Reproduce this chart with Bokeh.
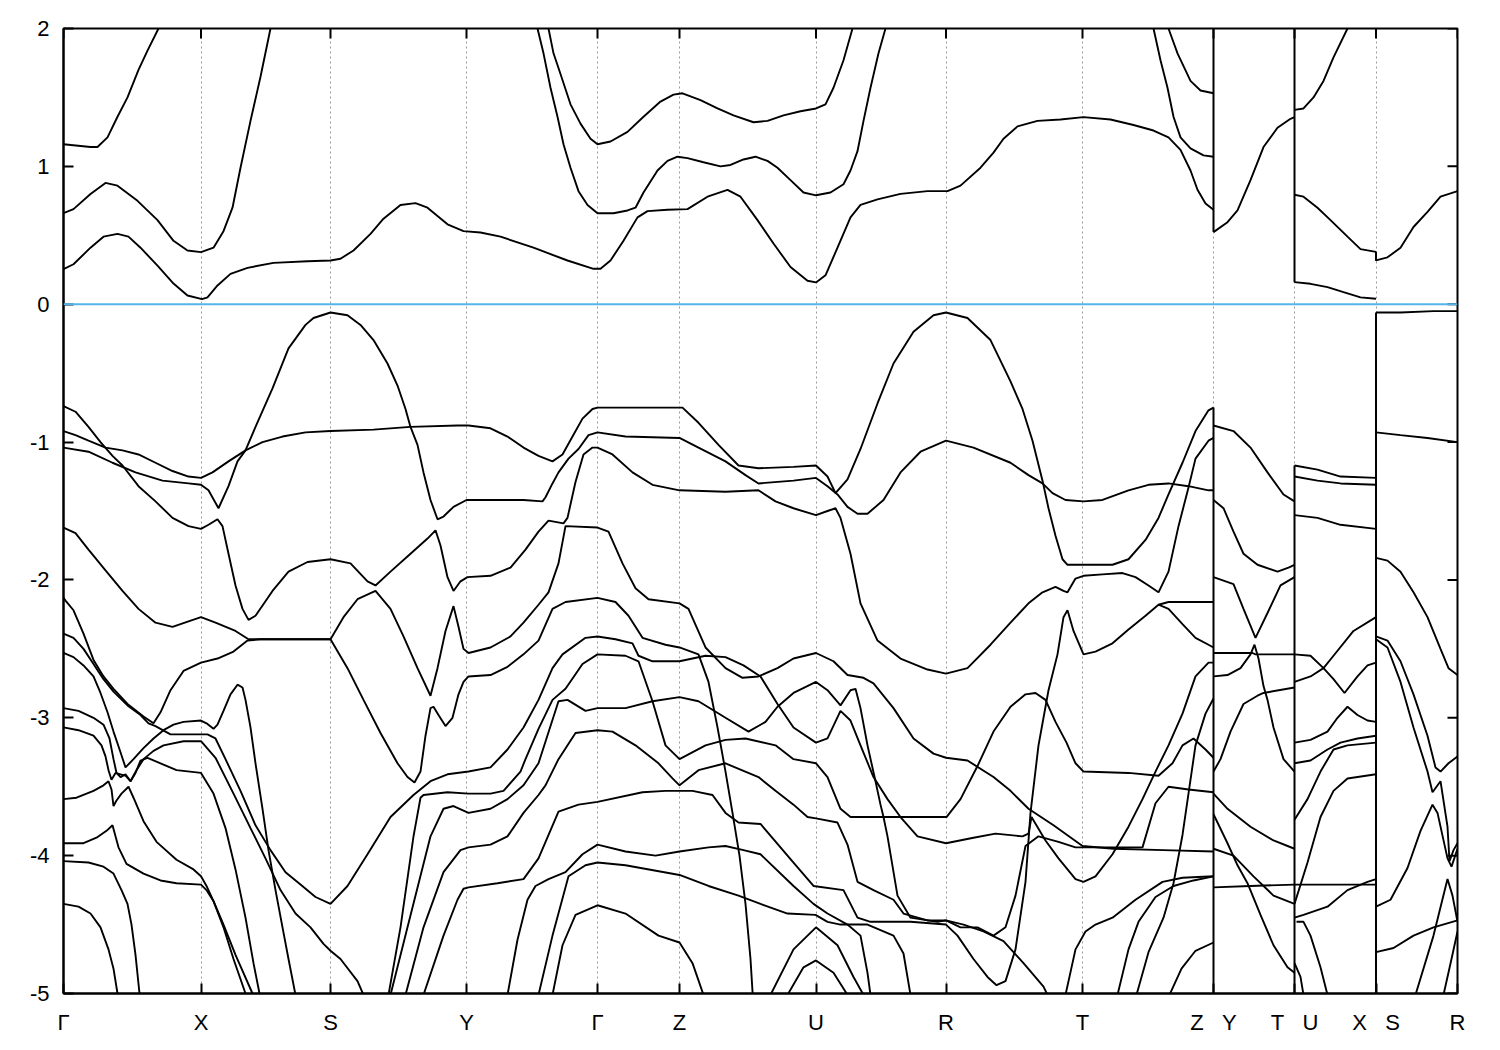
from bokeh.plotting import figure
from bokeh.models import Range1d, FixedTicker, Span, ColumnDataSource
from bokeh.embed import file_html
from bokeh.resources import INLINE

# ---------------- axis data ----------------
NB = "\u00a0" * 3
kpath_ticks = [0, 137.5, 267, 403, 534, 616, 752.5, 882.5, 1019, 1150, 1231, 1312.5, 1394]
kpath_labels = ["Γ", "X", "S", "Y", "Γ", "Z", "U", "R", "T",
                "Z" + NB + "Y", "T" + NB + "U", "X" + NB + "S", "R"]
energy_ticks = [-5, -4, -3, -2, -1, 0, 1, 2]
energy_labels = ["-5", "-4", "-3", "-2", "-1", "0", "1", "2"]
fermi_level = 0.0
# discontinuities of the path: (k, E_low, E_high)
jumps = [(1150, -5.3, -0.75), (1150, 0.523, 2.3),
         (1231, -5.3, -1.17), (1231, 0.16, 2.3),
         (1312.5, -5.3, -0.06), (1312.5, 0.318, 0.38)]

# ---------------- conduction bands (k, E) ----------------
cb1 = [(0,1.16),(27,1.14),(34,1.14),(44,1.21),(54,1.36),(64,1.50),(75,1.70),(84,1.84),(95,2.0),(102,2.12)]
cb2 = [(0,0.66),(10,0.69),(27,0.80),(42,0.88),(54,0.86),(74,0.75),(94,0.61),(110,0.46),(124,0.39),(137.5,0.378),
       (150,0.41),(160,0.53),(169,0.70),(177,0.99),(187,1.33),(197,1.65),(207,2.0),(212,2.15)]
cb3 = [(0,0.254),(10,0.29),(27,0.41),(40,0.49),(54,0.51),(65,0.49),(77,0.41),(94,0.28),(110,0.15),(124,0.063),
       (138.5,0.037),(144,0.05),(154,0.136),(167,0.22),(184,0.264),(210,0.30),(244,0.312),(267,0.317),(277,0.33),
       (290,0.39),(307,0.51),(320,0.62),(337,0.72),(352,0.733),(364,0.70),(384,0.58),(400,0.53),(417,0.52),
       (437,0.49),(470,0.41),(504,0.317),(530,0.257),(537,0.257),(547,0.317),(560,0.46),(574,0.63),(584,0.675),
       (604,0.685),(624,0.69),(644,0.78),(664,0.83),(677,0.78),(694,0.61),(710,0.44),(727,0.27),(744,0.17),
       (752.5,0.158),(762,0.21),(774,0.41),(787,0.63),(797,0.72),(814,0.76),(837,0.80),(864,0.82),(884,0.82),
       (897,0.86),(917,0.99),(930,1.10),(940,1.20),(954,1.29),(974,1.33),(997,1.34),(1020,1.357),(1047,1.34),
       (1070,1.30),(1090,1.26),(1105,1.21),(1117,1.12),(1127,0.97),(1134,0.83),(1142,0.73),(1150,0.685)]
cb4 = [(470,2.1),(474,2.0),(480,1.82),(487,1.57),(494,1.36),(500,1.16),(507,0.99),(515,0.82),(524,0.72),(534,0.66),
       (550,0.66),(564,0.68),(572,0.70),(580,0.81),(594,0.97),(604,1.04),(614,1.07),(624,1.06),(640,1.03),(657,1.00),
       (667,1.01),(680,1.05),(692,1.07),(704,1.04),(714,0.99),(727,0.90),(740,0.81),(752.5,0.79),(767,0.81),
       (780,0.87),(787,0.97),(794,1.11),(800,1.33),(807,1.57),(815,1.82),(822,2.0),(826,2.1)]
cb5 = [(482,2.08),(485,2.0),(490,1.82),(497,1.67),(507,1.45),(517,1.31),(527,1.20),(534,1.16),(547,1.18),(564,1.25),
       (580,1.36),(597,1.47),(610,1.52),(619,1.53),(637,1.48),(654,1.42),(670,1.37),(690,1.32),(704,1.33),(720,1.37),
       (737,1.40),(752.5,1.42),(762,1.45),(770,1.57),(780,1.77),(789,2.0),(792,2.08)]
cb6 = [(1088,2.08),(1090,2.0),(1097,1.77),(1104,1.57),(1110,1.36),(1117,1.21),(1127,1.13),(1140,1.08),(1150,1.07)]
cb7 = [(1103,2.08),(1105,2.0),(1114,1.82),(1127,1.62),(1137,1.55),(1150,1.53)]
cb8 = [(1150,0.523),(1164,0.595),(1174,0.68),(1187,0.90),(1200,1.14),(1214,1.28),(1227,1.345),(1231,1.357)]
cb9 = [(1231,1.41),(1240,1.42),(1250,1.50),(1260,1.62),(1270,1.79),(1284,2.0),(1287,2.08)]
cb10 = [(1231,0.794),(1240,0.78),(1254,0.70),(1267,0.61),(1284,0.49),(1297,0.40),(1312.5,0.38)]
cb11 = [(1231,0.16),(1247,0.148),(1264,0.124),(1280,0.088),(1297,0.05),(1312.5,0.04)]
cb12 = [(1312.5,0.38),(1312.5,0.318),(1324,0.34),(1337,0.41),(1350,0.56),(1364,0.67),(1377,0.78),(1394,0.82)]

# ---------------- valence bands, Gamma -> ... -> Z ----------------
vb_a = [(0,-0.74),(12,-0.78),(25,-0.89),(37,-1.00),(49,-1.10),(59,-1.17),(75,-1.32),(92,-1.43),(109,-1.55),
        (125,-1.61),(137.5,-1.63),(145,-1.60),(154,-1.56),(159,-1.61),(165,-1.81),(172,-2.04),(179,-2.21),
        (185,-2.29),(192,-2.26),(209,-2.08),(225,-1.94),(244,-1.87),(267,-1.85),(287,-1.88),(304,-2.01),
        (312,-2.04),(327,-1.94),(347,-1.81),(364,-1.70),(372,-1.64),(377,-1.75),(384,-1.98),(390,-2.08),
        (397,-2.01),(404,-1.98),(427,-1.97),(447,-1.91),(462,-1.78),(475,-1.65),(485,-1.57),(500,-1.59),
        (504,-1.55),(512,-1.29),(520,-1.09),(529,-1.04),(534,-1.04),(549,-1.09),(569,-1.22),(589,-1.31),
        (616,-1.35),(662,-1.36),(695,-1.35),(712,-1.43),(730,-1.48),(752.5,-1.53),(764,-1.50),(772,-1.48),
        (777,-1.55),(787,-1.81),(797,-2.17),(814,-2.44),(837,-2.57),(864,-2.65),(882.5,-2.68),(904,-2.64),
        (927,-2.47),(947,-2.31),(965,-2.17),(979,-2.09),(992,-2.05),(1000,-2.08),(1004,-2.09),(1012,-1.99),
        (1020,-1.97),(1039,-1.96),(1059,-1.95),(1072,-1.98),(1085,-2.04),(1095,-2.09),(1105,-1.94),(1115,-1.61),
        (1125,-1.33),(1132,-1.12),(1145,-0.99),(1150,-0.97)]
vb_b = [(0,-0.92),(12,-0.95),(25,-0.99),(42,-1.04),(59,-1.06),(75,-1.09),(92,-1.15),(109,-1.21),(125,-1.25),
        (137.5,-1.26),(149,-1.22),(165,-1.14),(182,-1.06),(199,-1.00),(219,-0.96),(242,-0.93),(267,-0.92),
        (310,-0.91),(347,-0.89),(394,-0.88),(405,-0.88),(427,-0.90),(444,-0.96),(460,-1.04),(475,-1.10),
        (489,-1.14),(499,-1.09),(509,-0.96),(519,-0.83),(529,-0.76),(534,-0.75),(562,-0.75),(619,-0.75),
        (635,-0.86),(655,-1.02),(675,-1.17),(695,-1.19),(730,-1.18),(752.5,-1.17),(764,-1.25),(772,-1.37),
        (784,-1.27),(797,-1.05),(814,-0.72),(830,-0.43),(850,-0.20),(870,-0.08),(882.5,-0.06),(904,-0.10),
        (927,-0.26),(947,-0.56),(959,-0.76),(969,-0.99),(979,-1.28),(985,-1.48),(992,-1.68),(999,-1.85),
        (1004,-1.89),(1020,-1.89),(1049,-1.89),(1065,-1.85),(1082,-1.71),(1095,-1.55),(1105,-1.38),(1119,-1.15),
        (1132,-0.92),(1145,-0.77),(1150,-0.75)]
vb_1 = [(0,-1.04),(25,-1.07),(49,-1.15),(72,-1.22),(99,-1.28),(125,-1.30),(137.5,-1.31),(145,-1.35),(155,-1.48),
        (165,-1.32),(174,-1.14),(182,-1.06),(192,-0.89),(209,-0.61),(225,-0.32),(242,-0.15),(250,-0.10),
        (267,-0.06),(284,-0.08),(297,-0.15),(310,-0.26),(324,-0.43),(334,-0.59),(342,-0.76),(347,-0.89),
        (354,-1.02),(360,-1.22),(367,-1.42),(374,-1.56),(380,-1.54),(390,-1.47),(403,-1.42),(427,-1.42),
        (460,-1.42),(479,-1.43),(482,-1.40),(489,-1.30),(495,-1.22),(505,-1.12),(515,-1.05),(525,-0.95),
        (534,-0.93),(562,-0.96),(616,-0.97),(635,-1.04),(662,-1.14),(682,-1.24),(695,-1.30),(730,-1.28),
        (752.5,-1.26),(764,-1.32),(774,-1.38),(784,-1.47),(794,-1.52),(804,-1.52),(820,-1.42),(837,-1.22),
        (857,-1.07),(882.5,-0.99),(910,-1.04),(947,-1.15),(965,-1.24),(979,-1.30),(989,-1.37),(1002,-1.42),
        (1020,-1.43),(1039,-1.42),(1065,-1.35),(1085,-1.31),(1105,-1.30),(1125,-1.32),(1145,-1.35),(1150,-1.35)]
vb_c = [(0,-1.62),(12,-1.66),(25,-1.78),(42,-1.93),(59,-2.08),(75,-2.21),(92,-2.31),(109,-2.34),(125,-2.30),
        (137.5,-2.27),(152,-2.31),(172,-2.37),(185,-2.43),(209,-2.43),(242,-2.43),(267,-2.43),(280,-2.27),
        (294,-2.14),(312,-2.08),(327,-2.21),(340,-2.41),(354,-2.64),(367,-2.84),(374,-2.64),(382,-2.37),
        (390,-2.19),(395,-2.34),(400,-2.50),(405,-2.53),(427,-2.49),(447,-2.41),(460,-2.31),(475,-2.18),
        (485,-2.09),(495,-1.88),(502,-1.61),(534,-1.62),(545,-1.65),(559,-1.88),(572,-2.06),(585,-2.14),
        (616,-2.17),(625,-2.21),(642,-2.49),(662,-2.64),(679,-2.71),(695,-2.70),(714,-2.64),(730,-2.57),
        (752.5,-2.53),(770,-2.59),(784,-2.69),(800,-2.71),(810,-2.75),(830,-2.93),(850,-3.15),(870,-3.26),
        (882.5,-3.29),(904,-3.31),(930,-3.43),(947,-3.53),(965,-3.66),(990,-3.78),(1019,-3.93),(1050,-3.95),
        (1100,-3.96),(1150,-3.97)]
vb_d = [(0,-2.13),(2,-2.15),(10,-2.22),(20,-2.39),(30,-2.58),(40,-2.70),(50,-2.79),(64,-2.90),(80,-2.99),
        (90,-3.04),(97,-2.96),(107,-2.80),(120,-2.66),(137.5,-2.60),(154,-2.57),(170,-2.52),(184,-2.44),
        (197,-2.43),(220,-2.43),(267,-2.43),(284,-2.64),(300,-2.87),(317,-3.11),(334,-3.33),(344,-3.43),
        (351,-3.47),(357,-3.39),(362,-3.13),(367,-2.93),(370,-2.92),(375,-2.98),(382,-3.06),(389,-3.00),
        (395,-2.83),(400,-2.74),(405,-2.70),(427,-2.69),(444,-2.63),(460,-2.54),(475,-2.44),(489,-2.21),
        (502,-2.16),(534,-2.13),(552,-2.16),(565,-2.26),(579,-2.42),(602,-2.47),(616,-2.49),(635,-2.54),
        (645,-2.74),(654,-3.07),(662,-3.39),(669,-3.69),(676,-4.0),(682,-4.35),(687,-4.75),(690,-5.1)]
vb_e = [(0,-2.39),(10,-2.42),(20,-2.50),(30,-2.61),(40,-2.72),(50,-2.81),(64,-2.91),(77,-2.98),(85,-3.04),
        (92,-3.06),(97,-3.08),(107,-3.12),(144,-3.12),(152,-3.15),(162,-3.30),(177,-3.53),(192,-3.78),
        (207,-3.96),(222,-4.12),(237,-4.21),(252,-4.30),(267,-4.35),(284,-4.22),(304,-3.99),(327,-3.72),
        (350,-3.56),(367,-3.46),(384,-3.41),(405,-3.39),(427,-3.36),(444,-3.23),(460,-3.07),(475,-2.87),
        (489,-2.64),(499,-2.54),(522,-2.42),(534,-2.41),(552,-2.43),(569,-2.46),(575,-2.55),(589,-2.59),
        (616,-2.59),(629,-2.57),(642,-2.55),(662,-2.56),(680,-2.62),(697,-2.70),(714,-2.90),(730,-3.07),
        (752.5,-3.18),(764,-3.15),(777,-2.95),(787,-3.02),(797,-3.20),(810,-3.43),(824,-3.59),(837,-3.72),
        (854,-3.86),(882.5,-3.91),(910,-3.87),(932,-3.84),(959,-3.86),(965,-3.84),(968,-3.72),(982,-3.89),
        (995,-4.02),(1012,-4.17),(1020,-4.19),(1032,-4.15),(1049,-3.99),(1065,-3.79),(1079,-3.59),
        (1092,-3.39),(1105,-3.20),(1119,-2.97),(1132,-2.70),(1145,-2.60),(1150,-2.60)]
# Gamma -> X -> S lower bands
gx1 = [(0,-2.53),(10,-2.56),(20,-2.62),(30,-2.70),(37,-2.82),(44,-2.96),(50,-3.10),(57,-3.25),(62,-3.36),
       (70,-3.30),(80,-3.22),(90,-3.15),(100,-3.09),(110,-3.05),(120,-3.03),(137.5,-3.02),(143,-3.04),
       (150,-3.08),(154,-3.05),(160,-2.95),(167,-2.83),(174,-2.76),(179,-2.78),(182,-2.87),(187,-3.07),
       (192,-3.33),(199,-3.66),(205,-3.96),(212,-4.25),(219,-4.52),(225,-4.75),(232,-5.01),(236,-5.15)]
gx2 = [(0,-2.93),(15,-2.95),(30,-3.00),(40,-3.05),(46,-3.15),(50,-3.30),(53,-3.40),(57,-3.43),(62,-3.41),
       (67,-3.46),(73,-3.38),(80,-3.30),(90,-3.24),(100,-3.20),(120,-3.17),(137.5,-3.17),(152,-3.29),
       (170,-3.55),(187,-3.80),(202,-4.02),(217,-4.25),(232,-4.42),(247,-4.52),(260,-4.64),(267,-4.69),
       (277,-4.75),(294,-4.91),(300,-5.01),(305,-5.15)]
gx3 = [(0,-3.07),(15,-3.09),(30,-3.13),(38,-3.20),(42,-3.28),(45,-3.38),(48,-3.45),(52,-3.40),(57,-3.41),
       (62,-3.42),(67,-3.46),(72,-3.40),(77,-3.31),(84,-3.29),(97,-3.33),(113,-3.38),(137.5,-3.40),
       (150,-3.55),(162,-3.80),(172,-4.10),(182,-4.45),(190,-4.78),(196,-5.0),(199,-5.15)]
gx4 = [(0,-3.59),(13,-3.58),(30,-3.53),(40,-3.49),(45,-3.46),(48,-3.52),(50,-3.64),(53,-3.60),(58,-3.55),
       (65,-3.50),(70,-3.58),(80,-3.75),(93,-3.90),(113,-4.03),(130,-4.10),(137.5,-4.15),(143,-4.22),
       (150,-4.33),(160,-4.52),(170,-4.75),(182,-5.0),(185,-5.15)]
gx5 = [(0,-3.91),(20,-3.91),(33,-3.87),(43,-3.82),(49,-3.78),(55,-3.94),(63,-4.06),(80,-4.13),(97,-4.18),
       (113,-4.20),(137.5,-4.21),(143,-4.25),(150,-4.33),(160,-4.50),(172,-4.72),(189,-5.0),(192,-5.15)]
gx6 = [(0,-4.04),(25,-4.05),(40,-4.08),(50,-4.13),(58,-4.25),(64,-4.35),(68,-4.5),(72,-4.72),(76,-5.0),(78,-5.15)]
gx7 = [(0,-4.35),(15,-4.37),(27,-4.42),(37,-4.52),(45,-4.68),(50,-4.82),(54,-5.0),(56,-5.15)]
# S -> Y -> Gamma -> Z -> U -> R -> T -> Z lower bands
sy1 = [(322,-5.15),(325,-5.01),(337,-4.52),(350,-3.86),(357,-3.58),(360,-3.56),(384,-3.54),(405,-3.55),
       (427,-3.55),(440,-3.53),(457,-3.39),(462,-3.30),(475,-3.08),(489,-2.87),(502,-2.79),(519,-2.61),
       (534,-2.54),(562,-2.55),(575,-2.59),(589,-2.88),(602,-3.20),(616,-3.30),(642,-3.20),(662,-3.16),
       (682,-3.15),(712,-3.20),(730,-3.30),(752.5,-3.33),(764,-3.43),(777,-3.66),(787,-3.72),(820,-3.72),
       (847,-3.72),(883,-3.72),(897,-3.59),(914,-3.35),(930,-3.10),(947,-2.92),(962,-2.83),(972,-2.82),
       (982,-2.87),(992,-3.03),(1003,-3.18),(1012,-3.33),(1020,-3.39),(1065,-3.40),(1095,-3.42),
       (1109,-3.33),(1119,-3.20),(1130,-3.15),(1142,-3.23),(1150,-3.29)]
sy2 = [(324,-5.15),(327,-5.01),(344,-4.52),(367,-3.86),(380,-3.66),(390,-3.64),(405,-3.69),(427,-3.66),
       (444,-3.59),(460,-3.49),(475,-3.33),(495,-2.88),(504,-2.87),(522,-2.95),(534,-2.93),(562,-2.93),
       (589,-2.88),(616,-2.85),(635,-2.88),(662,-3.00),(685,-3.10),(702,-3.03),(714,-2.92),(730,-2.82),
       (752.5,-2.74),(764,-2.80),(777,-2.91),(787,-2.80),(792,-2.79),(797,-2.93),(804,-3.20),(812,-3.46),
       (817,-3.63),(820,-3.72),(824,-3.86),(834,-4.29),(847,-4.45),(874,-4.48),(882.5,-4.47),(897,-4.52),
       (914,-4.52),(930,-4.58),(942,-4.52),(952,-4.29),(962,-3.93),(975,-3.86),(995,-3.90),(1012,-3.94),
       (1079,-3.94),(1092,-3.62),(1105,-3.50),(1125,-3.52),(1150,-3.54)]
sy3 = [(339,-5.15),(342,-5.01),(360,-4.52),(380,-4.12),(397,-3.96),(405,-3.94),(427,-3.92),(444,-3.86),
       (460,-3.69),(475,-3.56),(482,-3.49),(495,-3.30),(512,-3.11),(534,-3.09),(549,-3.10),(572,-3.20),
       (595,-3.33),(609,-3.44),(616,-3.49),(635,-3.38),(662,-3.33),(695,-3.43),(712,-3.53),(730,-3.63),
       (744,-3.72),(752.5,-3.73),(774,-3.76),(784,-3.92),(794,-4.19),(810,-4.25),(830,-4.32),(840,-4.42),
       (864,-4.47),(882.5,-4.47),(900,-4.50),(920,-4.55),(940,-4.62),(960,-4.78),(980,-4.95),(990,-5.1)]
sy4 = [(357,-5.15),(360,-5.01),(380,-4.58),(394,-4.32),(400,-4.24),(405,-4.23),(434,-4.20),(460,-4.17),
       (462,-4.15),(475,-4.02),(495,-3.68),(515,-3.63),(534,-3.61),(579,-3.54),(602,-3.53),(629,-3.53),
       (649,-3.56),(662,-3.69),(675,-3.76),(697,-3.77),(730,-4.05),(750,-4.22),(780,-4.25),(794,-4.45),
       (807,-4.48),(847,-4.48),(882.5,-4.50),(894,-4.58),(910,-4.75),(924,-4.88),(933,-4.94),(942,-4.91),
       (952,-4.68),(962,-4.19),(967,-3.69),(975,-3.20),(985,-2.80),(994,-2.54),(1000,-2.27),(1004,-2.22),
       (1010,-2.37),(1020,-2.54),(1032,-2.52),(1049,-2.46),(1065,-2.36),(1082,-2.26),(1095,-2.18),
       (1105,-2.21),(1119,-2.32),(1132,-2.42),(1145,-2.47),(1150,-2.49)]
sy5 = [(441,-5.15),(444,-5.01),(454,-4.61),(464,-4.32),(472,-4.22),(485,-4.17),(502,-4.12),(519,-3.99),
       (534,-3.92),(562,-3.97),(592,-4.00),(616,-3.97),(645,-3.94),(662,-3.93),(680,-3.96),(697,-3.99),
       (730,-4.22),(750,-4.35),(764,-4.42),(784,-4.50),(797,-4.58),(804,-4.85),(807,-5.01),(809,-5.15)]
sy6 = [(473,-5.15),(475,-5.01),(489,-4.58),(505,-4.15),(522,-4.07),(534,-4.05),(562,-4.07),(616,-4.14),
       (645,-4.22),(675,-4.29),(697,-4.35),(724,-4.42),(752,-4.43),(764,-4.48),(777,-4.50),(804,-4.50),
       (830,-4.58),(840,-4.71),(847,-5.01),(849,-5.15)]
sy7 = [(486,-5.15),(489,-5.01),(499,-4.65),(512,-4.43),(534,-4.36),(562,-4.42),(595,-4.58),(616,-4.63),
       (629,-4.78),(640,-5.01),(642,-5.15)]
up1 = [(705,-5.15),(707,-5.01),(730,-4.68),(752.5,-4.52),(774,-4.65),(790,-4.88),(800,-5.01),(803,-5.15)]
up2 = [(721,-5.15),(724,-5.01),(740,-4.81),(752.5,-4.76),(770,-4.85),(784,-5.01),(787,-5.15)]
tz1 = [(1095,-2.18),(1105,-2.16),(1150,-2.16)]
tz2 = [(1000,-5.15),(1002,-5.01),(1012,-4.68),(1022,-4.55),(1032,-4.50),(1049,-4.45),(1072,-4.32),
       (1099,-4.19),(1119,-4.16),(1150,-4.15)]
tz3 = [(1052,-5.15),(1054,-5.01),(1065,-4.68),(1075,-4.48),(1092,-4.30),(1110,-4.22),(1130,-4.18),(1150,-4.15)]
tz4 = [(1071,-5.15),(1073,-5.01),(1085,-4.70),(1100,-4.45),(1110,-4.20),(1119,-3.85),(1126,-3.50),
       (1132,-3.20),(1142,-2.97),(1150,-2.86)]
tz5 = [(1104,-5.15),(1106,-5.01),(1118,-4.82),(1132,-4.69),(1150,-4.63)]
# Y -> T
yt1 = [(1150,-0.88),(1170,-0.92),(1187,-1.04),(1204,-1.22),(1220,-1.38),(1231,-1.43)]
yt2 = [(1150,-1.42),(1160,-1.48),(1170,-1.65),(1180,-1.81),(1194,-1.89),(1214,-1.94),(1225,-1.91),(1231,-1.89)]
yt3 = [(1150,-1.98),(1170,-2.03),(1180,-2.21),(1192,-2.42),(1204,-2.24),(1217,-2.04),(1231,-1.98)]
yt4 = [(1150,-2.53),(1189,-2.53),(1192,-2.54),(1204,-2.54),(1231,-2.54)]
yt5 = [(1150,-2.70),(1164,-2.69),(1177,-2.64),(1187,-2.54),(1191,-2.47),(1195,-2.57),(1200,-2.77),
       (1204,-2.87),(1210,-3.07),(1220,-3.30),(1231,-3.39)]
yt6 = [(1150,-3.39),(1157,-3.30),(1167,-3.10),(1180,-2.90),(1194,-2.84),(1200,-2.82),(1231,-2.78)]
yt7 = [(1150,-3.55),(1164,-3.66),(1187,-3.79),(1210,-3.89),(1231,-3.95)]
yt8 = [(1150,-3.70),(1164,-3.91),(1174,-4.07),(1184,-4.20),(1197,-4.43),(1210,-4.65),(1224,-4.81),(1231,-4.85)]
yt9 = [(1150,-3.95),(1170,-4.00),(1190,-4.15),(1210,-4.29),(1231,-4.35)]
yt10 = [(1150,-4.23),(1187,-4.22),(1231,-4.21)]
# U -> X
ux1 = [(1231,-1.17),(1254,-1.20),(1277,-1.25),(1312.5,-1.26)]
ux2 = [(1231,-1.25),(1254,-1.28),(1277,-1.30),(1312.5,-1.31)]
ux3 = [(1231,-1.53),(1254,-1.55),(1277,-1.60),(1312.5,-1.63)]
ux4 = [(1231,-2.54),(1247,-2.55),(1260,-2.64),(1270,-2.55),(1290,-2.37),(1312.5,-2.27)]
ux5 = [(1231,-2.74),(1247,-2.70),(1260,-2.64),(1270,-2.72),(1281,-2.82),(1294,-2.70),(1304,-2.62),(1312.5,-2.60)]
ux6 = [(1231,-3.18),(1247,-3.16),(1264,-3.10),(1274,-3.00),(1284,-2.92),(1294,-2.98),(1304,-3.02),(1312.5,-3.03)]
ux7 = [(1231,-3.33),(1247,-3.31),(1264,-3.23),(1277,-3.18),(1294,-3.15),(1312.5,-3.13)]
ux8 = [(1231,-3.74),(1244,-3.59),(1257,-3.39),(1270,-3.23),(1284,-3.20),(1312.5,-3.18)]
ux9 = [(1231,-4.35),(1244,-4.05),(1257,-3.72),(1270,-3.53),(1284,-3.44),(1312.5,-3.41)]
ux10 = [(1231,-4.21),(1312.5,-4.21)]
ux11 = [(1231,-4.45),(1240,-4.43),(1264,-4.37),(1284,-4.25),(1304,-4.19),(1312.5,-4.17)]
ux12 = [(1233,-4.48),(1240,-4.48),(1247,-4.58),(1257,-4.81),(1264,-5.01),(1266,-5.15)]
ux13 = [(1231,-4.78),(1237,-4.88),(1240,-5.01),(1242,-5.15)]
# S -> R
sr1 = [(1312.5,-0.06),(1337,-0.06),(1370,-0.05),(1394,-0.05)]
sr2 = [(1312.5,-0.93),(1337,-0.95),(1364,-0.97),(1394,-1.00)]
sr3 = [(1312.5,-1.84),(1324,-1.86),(1337,-1.94),(1350,-2.09),(1364,-2.27),(1377,-2.50),(1385,-2.64),(1394,-2.69)]
sr4 = [(1312.5,-2.41),(1324,-2.44),(1337,-2.59),(1350,-2.83),(1364,-3.13),(1372,-3.36),(1377,-3.39),
       (1385,-3.33),(1394,-3.28)]
sr5 = [(1312.5,-2.43),(1324,-2.49),(1337,-2.74),(1350,-3.07),(1364,-3.39),(1369,-3.54),(1377,-3.46),
       (1384,-3.79),(1386,-4.04),(1390,-3.96),(1394,-3.91)]
sr6 = [(1312.5,-4.37),(1327,-4.32),(1344,-4.09),(1357,-3.82),(1369,-3.63),(1374,-3.69),(1384,-4.02),
       (1388,-4.08),(1394,-3.95)]
sr7 = [(1312.5,-4.70),(1330,-4.67),(1350,-4.58),(1370,-4.52),(1394,-4.47)]
sr8 = [(1350,-5.15),(1352,-5.01),(1370,-4.58),(1384,-4.17),(1389,-4.29),(1394,-4.48)]
sr9 = [(1378,-5.15),(1380,-5.01),(1388,-4.75),(1394,-4.55)]

bands = [cb1, cb2, cb3, cb4, cb5, cb6, cb7, cb8, cb9, cb10, cb11, cb12,
         vb_a, vb_b, vb_1, vb_c, vb_d, vb_e, gx1, gx2, gx3, gx4, gx5, gx6, gx7,
         sy1, sy2, sy3, sy4, sy5, sy6, sy7, up1, up2, tz1, tz2, tz3, tz4, tz5,
         yt1, yt2, yt3, yt4, yt5, yt6, yt7, yt8, yt9, yt10,
         ux1, ux2, ux3, ux4, ux5, ux6, ux7, ux8, ux9, ux10, ux11, ux12, ux13,
         sr1, sr2, sr3, sr4, sr5, sr6, sr7, sr8, sr9]

# ---------------- figure ----------------
FONT = "Liberation Sans"
W, H = 1492, 1042
MB_L, MB_R, MB_T, MB_B = 63, 35, 28, 49
K_MIN, K_MAX, E_MIN, E_MAX = 0, 1394, -5, 2
p = figure(width=W, height=H, output_backend="svg", toolbar_location=None,
           x_range=Range1d(K_MIN, K_MAX), y_range=Range1d(E_MIN, E_MAX),
           min_border_left=MB_L, min_border_right=MB_R, min_border_top=MB_T, min_border_bottom=MB_B)
p.background_fill_color = "white"
p.border_fill_color = "white"
p.outline_line_color = "black"
p.outline_line_width = 2

# vertical dotted lines at high-symmetry points
p.xgrid.ticker = FixedTicker(ticks=kpath_ticks)
p.xgrid.grid_line_color = "#9a9a9a"
p.xgrid.grid_line_dash = "2 3"
p.xgrid.grid_line_width = 1
p.ygrid.grid_line_color = None

src = ColumnDataSource(dict(xs=[[pt[0] for pt in b] for b in bands],
                            ys=[[pt[1] for pt in b] for b in bands]))
p.multi_line("xs", "ys", source=src, line_color="black", line_width=1.9)

p.segment(x0=[j[0] for j in jumps], y0=[j[1] for j in jumps],
          x1=[j[0] for j in jumps], y1=[j[2] for j in jumps],
          line_color="black", line_width=2)

p.add_layout(Span(location=fermi_level, dimension="width", line_color="#56b4e9", line_width=2))

# mirrored inward tick marks on the top and right frame edges (10 px long)
frame_w = W - MB_L - MB_R
frame_h = H - MB_T - MB_B
tick_k = 10 * (K_MAX - K_MIN) / frame_w
tick_e = 10 * (E_MAX - E_MIN) / frame_h
p.segment(x0=kpath_ticks, y0=[E_MAX] * len(kpath_ticks),
          x1=kpath_ticks, y1=[E_MAX - tick_e] * len(kpath_ticks), line_color="black", line_width=2)
p.segment(x0=[K_MAX] * len(energy_ticks), y0=energy_ticks,
          x1=[K_MAX - tick_k] * len(energy_ticks), y1=energy_ticks, line_color="black", line_width=2)

# axes
xa = p.xaxis[0]
xa.ticker = FixedTicker(ticks=kpath_ticks)
xa.major_label_overrides = {t: l for t, l in zip(kpath_ticks, kpath_labels)}
ya = p.yaxis[0]
ya.ticker = FixedTicker(ticks=energy_ticks)
ya.major_label_overrides = {t: l for t, l in zip(energy_ticks, energy_labels)}
for ax in (xa, ya):
    ax.major_label_text_font = FONT
    ax.major_label_text_font_size = "22px"
    ax.major_label_text_color = "black"
    ax.major_tick_in = 10
    ax.major_tick_out = 0
    ax.minor_tick_line_color = None
    ax.axis_line_width = 2
    ax.major_tick_line_width = 2
    ax.axis_line_color = "black"
    ax.major_tick_line_color = "black"
xa.major_label_standoff = 16
ya.major_label_standoff = 14

open("out.html", "w").write(file_html(p, INLINE))
